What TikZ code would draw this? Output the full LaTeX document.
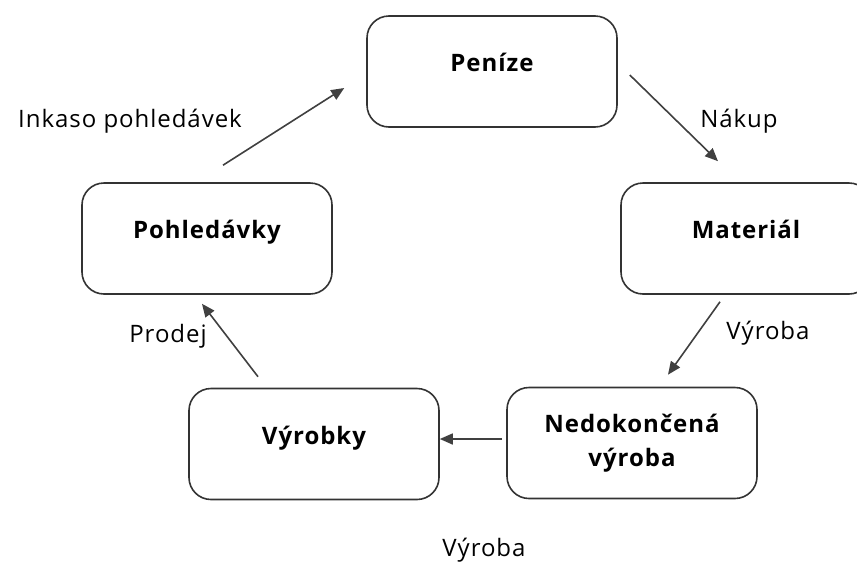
\documentclass[tikz,border=0pt]{standalone}
\usepackage{fontspec}
\setmainfont{Open Sans}[LetterSpace=4]
\usetikzlibrary{arrows.meta,calc}
\begin{document}
\begin{tikzpicture}[x=1pt,y=-1pt,
    font=\fontsize{24}{34}\selectfont,
    stav/.style={draw=black!80,line width=1.6pt,rounded corners=22pt,minimum width=250pt,minimum height=111pt,font=\fontsize{24}{34}\selectfont\bfseries,align=center},
    jeden/.style={text height=12pt,text depth=12pt},
    tok/.style={-{Triangle[length=13pt,width=11pt]},line width=1.6pt,draw=black!75}]
    \useasboundingbox (0,0) rectangle (857,563);
    \clip (0,0) rectangle (857,563);
    \fill[white] (0,0) rectangle (857,563);
    % stavy
    \node[stav,jeden] (penize) at (492,71.5) {Peníze};
    \node[stav,jeden] (material) at (746,238.5) {Materiál};
    \node[stav,jeden] (pohl) at (207,238.5) {Pohledávky};
    \node[stav,jeden] (vyrobky) at (314,444) {Výrobky};
    \node[stav] (nedok) at (632,443) {Nedokončená\\výroba};
    % toky
    \draw[tok] ($(pohl.north)+(16,-17)$) -- ($(penize.west)+(-22,16.5)$);
    \draw[tok] ($(penize.east)+(12,3.5)$) -- ($(material.north)+(-28,-21)$);
    \draw[tok] ($(material.south)+(-26,7)$) -- ($(nedok.north)+(36,-12)$);
    \draw[tok] ($(nedok.west)+(-4,-4)$) -- ($(vyrobky.east)+(0,-5)$);
    \draw[tok] ($(vyrobky.north)+(-56,-11)$) -- ($(pohl.south)+(-5,9)$);
    % popisky
    \node (inkaso) at (130,121) {Inkaso pohledávek};
    \node (nakup) at (739,121) {Nákup};
    \node (vyroba1) at (768,333) {Výroba};
    \node (prodej) at (168,336) {Prodej};
    \node (vyroba2) at (484,550) {Výroba};
\end{tikzpicture}
\end{document}
